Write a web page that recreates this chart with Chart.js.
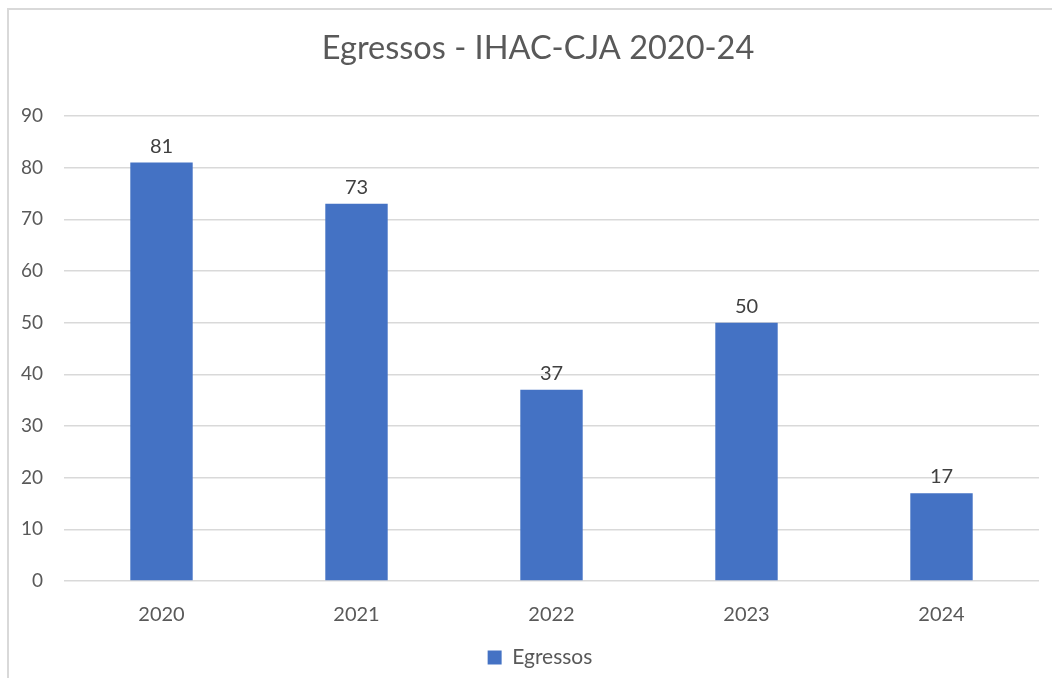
<!DOCTYPE html>
<html>
<head>
<meta charset="utf-8">
<script src="https://cdn.jsdelivr.net/npm/chart.js@4/dist/chart.umd.min.js"></script>
<style>
  html, body { margin: 0; padding: 0; background: #fff; overflow: hidden; }
  #frame {
    position: absolute; left: 7px; top: 8px;
    width: 1045px; height: 670px;
    border-left: 2px solid #d9d9d9; border-top: 2px solid #d9d9d9;
  }
  #chart-container { position: absolute; left: 0; top: 0; width: 1043px; height: 668px; }
</style>
</head>
<body>
<div id="frame"><div id="chart-container"><canvas id="egressosChart"></canvas></div></div>
<script>
// Egressos por ano - barras com rótulos
const anos = ['2020', '2021', '2022', '2023', '2024'];
const egressos = [81, 73, 37, 50, 17];
const yTicks = [0, 10, 20, 30, 40, 50, 60, 70, 80, 90];

const FONT = 'Lato, "Open Sans", sans-serif';

// draws value above each bar
const barLabels = {
  id: 'barLabels',
  afterDatasetsDraw(chart) {
    const ctx = chart.ctx;
    ctx.save();
    ctx.font = '20px ' + FONT;
    ctx.fillStyle = '#404040';
    ctx.textAlign = 'center';
    ctx.textBaseline = 'alphabetic';
    chart.getDatasetMeta(0).data.forEach((bar, i) => {
      ctx.fillText(String(chart.data.datasets[0].data[i]), bar.x, bar.y - 10);
    });
    ctx.restore();
  }
};

// title and legend sit a bit right of the canvas centre in the original
const boxShift = {
  id: 'boxShift',
  afterLayout(chart) {
    const t = chart.titleBlock;
    if (t) { t.left += 14; t.right += 14; }
    const l = chart.legend;
    if (l) { l.left += 16; l.right += 16; }
  }
};

new Chart(document.getElementById('egressosChart'), {
  type: 'bar',
  data: {
    labels: anos,
    datasets: [{
      label: 'Egressos',
      data: egressos,
      backgroundColor: '#4472C4',
      borderWidth: 0,
      barPercentage: 0.32,
      categoryPercentage: 1
    }]
  },
  options: {
    responsive: true,
    maintainAspectRatio: false,
    animation: false,
    layout: { padding: { top: 0, right: 13, bottom: 0, left: 0 } },
    plugins: {
      title: {
        display: true,
        text: 'Egressos - IHAC-CJA 2020-24',
        color: '#595959',
        font: { family: FONT, size: 32.5, weight: 'normal' },
        padding: { top: 19, bottom: 48 }
      },
      legend: {
        position: 'bottom',
        labels: {
          color: '#595959',
          font: { family: FONT, size: 21 },
          boxWidth: 14,
          boxHeight: 14,
          padding: 6
        }
      },
      tooltip: { enabled: false }
    },
    scales: {
      x: {
        grid: { display: false },
        border: { display: false },
        ticks: { color: '#595959', font: { family: FONT, size: 20 }, padding: 14 }
      },
      y: {
        min: 0,
        max: 90,
        afterBuildTicks(scale) { scale.ticks = yTicks.map(v => ({ value: v })); },
        afterFit(scale) { scale.width = 55; },
        grid: { color: '#d9d9d9', lineWidth: 1.5, drawTicks: false },
        border: { display: false },
        ticks: { color: '#595959', font: { family: FONT, size: 19 }, padding: 21 }
      }
    }
  },
  plugins: [barLabels, boxShift]
});
</script>
</body>
</html>
